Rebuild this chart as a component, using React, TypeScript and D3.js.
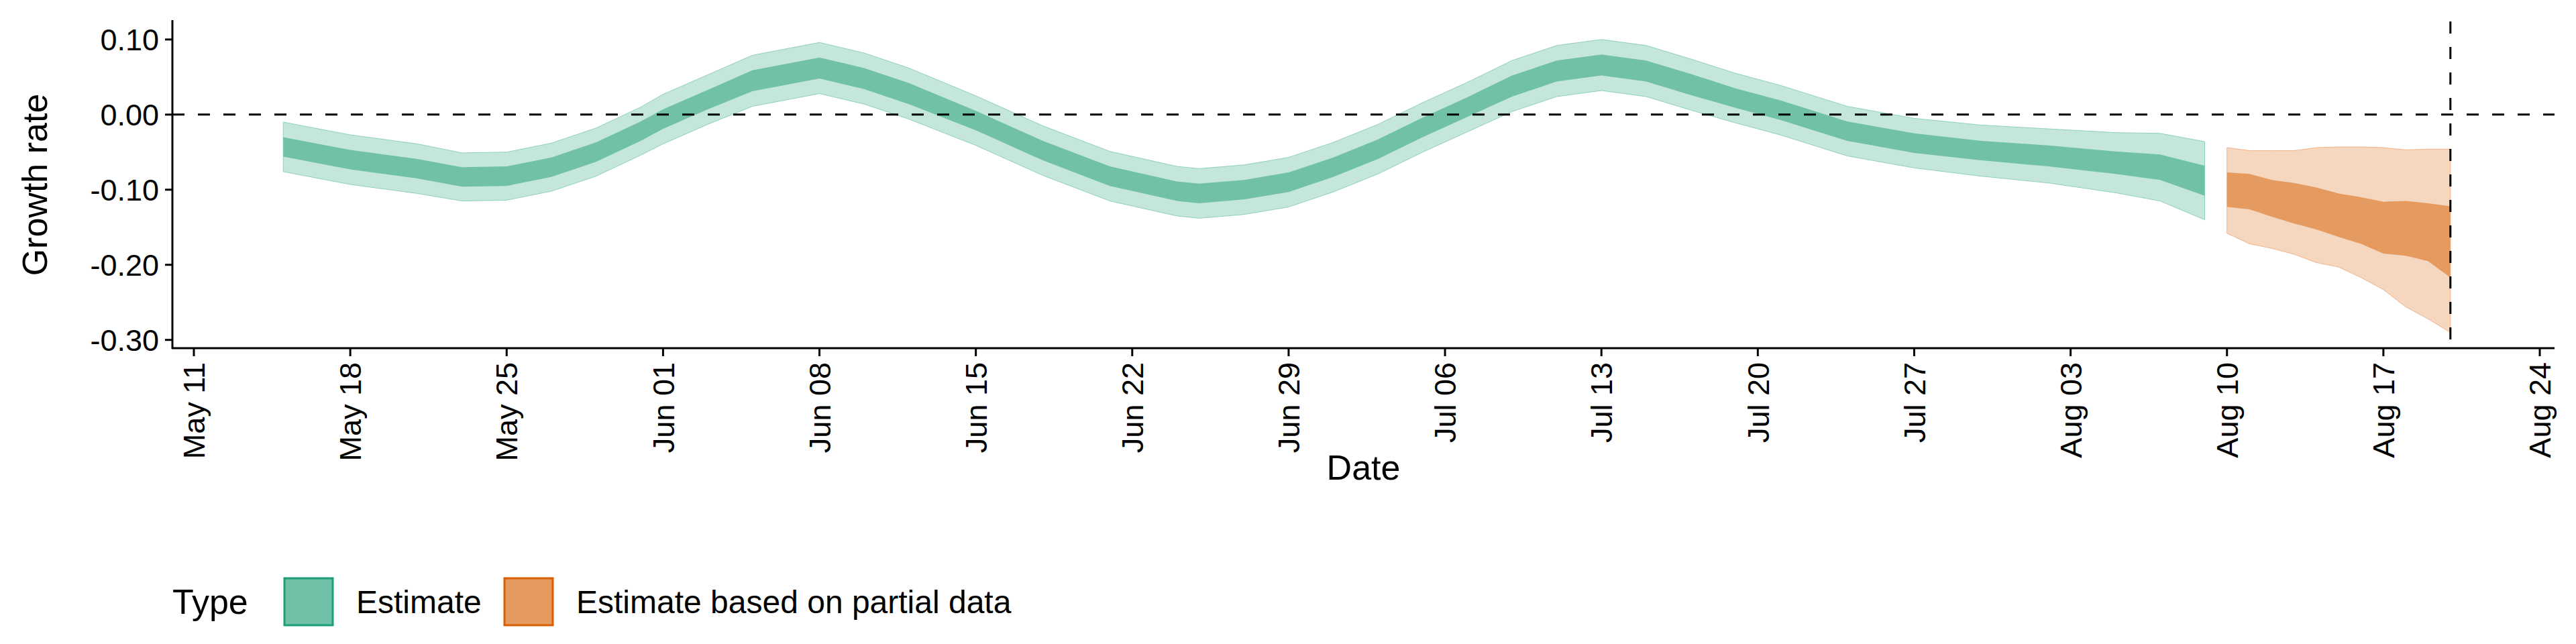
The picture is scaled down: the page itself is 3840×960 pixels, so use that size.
import { useEffect, useRef } from 'react'
import * as d3 from 'd3'

// Estimate: date, median, half-width of inner band, half-width of outer band
const estDates = ['2020-05-15', '2020-05-18', '2020-05-21', '2020-05-23', '2020-05-25', '2020-05-27', '2020-05-29', '2020-05-31',
  '2020-06-01', '2020-06-03', '2020-06-05', '2020-06-08', '2020-06-10', '2020-06-12', '2020-06-15', '2020-06-18', '2020-06-21',
  '2020-06-24', '2020-06-25', '2020-06-27', '2020-06-29', '2020-07-01', '2020-07-03', '2020-07-05', '2020-07-07', '2020-07-09',
  '2020-07-11', '2020-07-13', '2020-07-15', '2020-07-17', '2020-07-19', '2020-07-21', '2020-07-24', '2020-07-27', '2020-07-30',
  '2020-08-02', '2020-08-05', '2020-08-07', '2020-08-09']
const estMid = [-0.043, -0.06, -0.072, -0.083, -0.082, -0.07, -0.05, -0.022,
  -0.006, 0.02, 0.045, 0.062, 0.048, 0.028, -0.008, -0.048, -0.082,
  -0.102, -0.105, -0.1, -0.09, -0.07, -0.046, -0.017, 0.01, 0.038,
  0.058, 0.066, 0.058, 0.04, 0.022, 0.006, -0.022, -0.038, -0.048,
  -0.055, -0.064, -0.07, -0.088]
const estInner = [0.013, 0.013, 0.013, 0.013, 0.013, 0.013, 0.013, 0.013,
  0.013, 0.013, 0.014, 0.014, 0.014, 0.014, 0.013, 0.013, 0.013,
  0.013, 0.013, 0.013, 0.013, 0.013, 0.013, 0.013, 0.013, 0.014,
  0.014, 0.014, 0.014, 0.014, 0.013, 0.013, 0.013, 0.013, 0.013,
  0.014, 0.015, 0.017, 0.02]
const estOuter = [0.033, 0.033, 0.033, 0.032, 0.032, 0.032, 0.032, 0.032,
  0.033, 0.033, 0.034, 0.034, 0.034, 0.034, 0.033, 0.033, 0.033,
  0.033, 0.033, 0.033, 0.033, 0.033, 0.033, 0.033, 0.033, 0.034,
  0.034, 0.034, 0.034, 0.034, 0.033, 0.033, 0.033, 0.033, 0.034,
  0.036, 0.04, 0.045, 0.052]

// Estimate based on partial data: explicit band bounds
const partDates = ['2020-08-10', '2020-08-11', '2020-08-12', '2020-08-13', '2020-08-14', '2020-08-15', '2020-08-16', '2020-08-17', '2020-08-18', '2020-08-19', '2020-08-20']
const partLo90 = [-0.158, -0.172, -0.178, -0.186, -0.197, -0.203, -0.217, -0.233, -0.256, -0.272, -0.29]
const partLo50 = [-0.123, -0.126, -0.136, -0.145, -0.153, -0.163, -0.172, -0.185, -0.188, -0.195, -0.217]
const partHi50 = [-0.077, -0.079, -0.087, -0.091, -0.097, -0.105, -0.11, -0.116, -0.115, -0.118, -0.122]
const partHi90 = [-0.044, -0.048, -0.048, -0.048, -0.044, -0.043, -0.043, -0.044, -0.047, -0.046, -0.046]

const yTicks = [0.1, 0, -0.1, -0.2, -0.3]
const xTickDates = ['2020-05-11', '2020-05-18', '2020-05-25', '2020-06-01', '2020-06-08', '2020-06-15', '2020-06-22', '2020-06-29',
  '2020-07-06', '2020-07-13', '2020-07-20', '2020-07-27', '2020-08-03', '2020-08-10', '2020-08-17', '2020-08-24']
const cutoffDate = '2020-08-20'

const FONT = '"Liberation Sans", Arial, sans-serif'

const App = () => {
  const svgRef = useRef<SVGSVGElement | null>(null)
  const W = 3840
  const H = 960

  useEffect(() => {
    document.body.style.margin = '0'
    if (!svgRef.current) return
    const svg = d3.select(svgRef.current)
    svg.selectAll('*').remove()

    const parse = d3.utcParse('%Y-%m-%d')
    const x = d3.scaleUtc()
      .domain([parse('2020-05-11')!, parse('2020-08-24')!])
      .range([289, 3786])
    const y = d3.scaleLinear().domain([-0.311, 0.124]).range([519, 32])
    const left = 257
    const right = 3808

    type Row = { d: Date; lo: number; hi: number }
    const band = (rows: Row[]) =>
      d3.area<Row>().x(r => x(r.d)).y0(r => y(r.lo)).y1(r => y(r.hi))(rows) ?? ''

    const est = estDates.map((s, i) => ({ d: parse(s)!, m: estMid[i], a: estInner[i], b: estOuter[i] }))
    const part = partDates.map((s, i) => ({ d: parse(s)!, i }))

    const g = svg.append('g')
    g.append('path').attr('d', band(est.map(r => ({ d: r.d, lo: r.m - r.b, hi: r.m + r.b }))))
      .attr('fill', '#c5e6dc').attr('stroke', '#8fd1bd').attr('stroke-width', 1)
    g.append('path').attr('d', band(est.map(r => ({ d: r.d, lo: r.m - r.a, hi: r.m + r.a }))))
      .attr('fill', '#70c1a8')
    g.append('path').attr('d', band(part.map(r => ({ d: r.d, lo: partLo90[r.i], hi: partHi90[r.i] }))))
      .attr('fill', '#f5d6bf').attr('stroke', '#f0b48a').attr('stroke-width', 1)
    g.append('path').attr('d', band(part.map(r => ({ d: r.d, lo: partLo50[r.i], hi: partHi50[r.i] }))))
      .attr('fill', '#e59a60')

    // reference lines
    g.append('line').attr('x1', left).attr('x2', right).attr('y1', y(0)).attr('y2', y(0))
      .attr('stroke', '#000').attr('stroke-width', 3).attr('stroke-dasharray', '18,20')
    const cx = x(parse(cutoffDate)!)
    g.append('line').attr('x1', cx).attr('x2', cx).attr('y1', 32).attr('y2', 519)
      .attr('stroke', '#000').attr('stroke-width', 3).attr('stroke-dasharray', '18,20')

    // y axis
    g.append('line').attr('x1', left).attr('x2', left).attr('y1', 30).attr('y2', 520)
      .attr('stroke', '#000').attr('stroke-width', 3)
    yTicks.forEach(t => {
      g.append('line').attr('x1', left - 11).attr('x2', left).attr('y1', y(t)).attr('y2', y(t))
        .attr('stroke', '#000').attr('stroke-width', 3)
      g.append('text').attr('x', left - 20).attr('y', y(t)).attr('dy', '0.36em')
        .attr('text-anchor', 'end').attr('font-size', 45).attr('font-family', FONT)
        .text(d3.format('.2f')(t).replace('\u2212', '-'))
    })
    g.append('text').attr('transform', `translate(70,${(32 + 519) / 2}) rotate(-90)`)
      .attr('text-anchor', 'middle').attr('font-size', 52).attr('font-family', FONT)
      .text('Growth rate')

    // x axis
    g.append('line').attr('x1', left - 1).attr('x2', right).attr('y1', 519).attr('y2', 519)
      .attr('stroke', '#000').attr('stroke-width', 3)
    const fmt = d3.utcFormat('%b %d')
    xTickDates.forEach(s => {
      const px = x(parse(s)!)
      g.append('line').attr('x1', px).attr('x2', px).attr('y1', 519).attr('y2', 531)
        .attr('stroke', '#000').attr('stroke-width', 3)
      g.append('text').attr('transform', `translate(${px},540) rotate(-90)`)
        .attr('dy', '0.36em').attr('text-anchor', 'end').attr('font-size', 45).attr('font-family', FONT)
        .text(fmt(parse(s)!))
    })
    g.append('text').attr('x', (left + right) / 2).attr('y', 715)
      .attr('text-anchor', 'middle').attr('font-size', 52).attr('font-family', FONT)
      .text('Date')

    // legend
    const lg = g.append('g')
    lg.append('text').attr('x', 257).attr('y', 915).attr('font-size', 52).attr('font-family', FONT).text('Type')
    const items = [
      { label: 'Estimate', fill: '#70c1a8', stroke: '#1b9e77', x0: 424 },
      { label: 'Estimate based on partial data', fill: '#e59a60', stroke: '#d95f02', x0: 752 },
    ]
    items.forEach(it => {
      lg.append('rect').attr('x', it.x0).attr('y', 862).attr('width', 72).attr('height', 70)
        .attr('fill', it.fill).attr('stroke', it.stroke).attr('stroke-width', 3)
      lg.append('text').attr('x', it.x0 + 107).attr('y', 897).attr('dy', '0.36em')
        .attr('font-size', 48).attr('font-family', FONT).text(it.label)
    })
  }, [])

  return <svg ref={svgRef} width={W} height={H} style={{ display: 'block', background: '#fff' }} />
}

export default App
